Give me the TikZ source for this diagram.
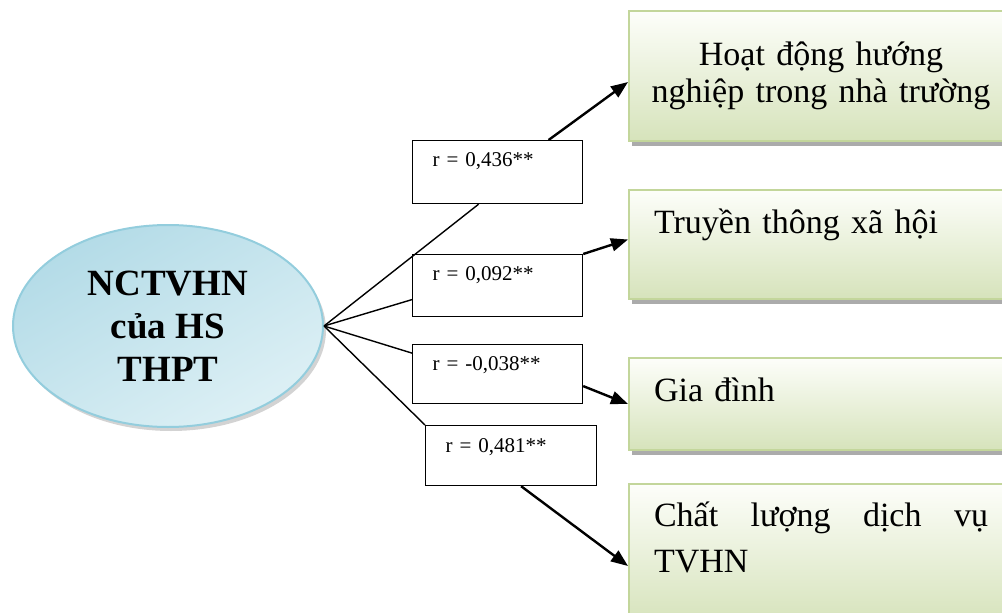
\documentclass[tikz,border=0pt]{standalone}
\usepackage{fontspec}
\setmainfont{Liberation Serif}
\usepackage{xcolor}
\usetikzlibrary{positioning,arrows.meta,shapes.geometric,shadows}
\definecolor{ovaltop}{HTML}{B3DBE7}
\definecolor{ovalbot}{HTML}{DDF0F5}
\definecolor{ovalline}{HTML}{93CDDD}
\definecolor{boxtop}{HTML}{FDFEFA}
\definecolor{boxbot}{HTML}{D6E3BB}
\definecolor{boxline}{HTML}{C3D69B}

\begin{document}
\begin{tikzpicture}[x=1pt,y=-1pt,
    oval/.style={ellipse,draw=ovalline,line width=2pt,minimum width=310pt,minimum height=202pt,
      top color=ovaltop,bottom color=ovalbot,shading angle=30,align=center,
      font=\bfseries\fontsize{37}{43}\selectfont,
      drop shadow={shadow xshift=3pt,shadow yshift=-4pt,opacity=0.35}},
    rbox/.style={draw,line width=1.2pt,fill=white,anchor=north west,inner xsep=20pt,inner ysep=0pt,
      text width=130pt,text height=26pt,align=left,font=\fontsize{21}{25}\selectfont},
    goal/.style={draw=boxline,line width=2pt,top color=boxtop,bottom color=boxbot,anchor=north west,
      inner xsep=25pt,inner ysep=0pt,text width=334pt,text height=43pt,align=left,
      font=\fontsize{34}{40}\selectfont,
      drop shadow={shadow xshift=3pt,shadow yshift=-5pt,fill=black!60,opacity=0.55}},
    link/.style={line width=1.4pt},
    effect/.style={line width=2.4pt,-{Triangle[length=17pt,width=13pt]}}]
  \clip (0,0) rectangle (1002,613);
  % source
  \node[oval] (nc) at (168,326) {NCTVHN\\của HS\\THPT};
  % factors
  \node[goal,align=center,inner xsep=12pt,text width=360pt,text height=54pt,text depth=76pt,
    font=\fontsize{34}{37}\selectfont]
    (b1) at (628,10) {Hoạt động hướng\\nghiệp trong nhà trường};
  \node[goal,text depth=66pt] (b2) at (628,189) {Truyền thông xã hội};
  \node[goal,text depth=49pt] (b3) at (628,357) {Gia đình};
  \node[goal,align=justify,text height=42pt,text depth=98pt,font=\fontsize{34}{46}\selectfont]
    (b4) at (628,483) {Chất lượng dịch vụ TVHN};
  % coefficients
  \node[rbox,text depth=37pt] (r1) at (412,140) {r = 0,436**};
  \node[rbox,text depth=36pt] (r2) at (412,254) {r = 0,092**};
  \node[rbox,text depth=33pt] (r3) at (412,344) {r = -0,038**};
  \node[rbox,text width=131pt,text height=27pt,text depth=33pt] (r4) at (425,425) {r = 0,481**};
  % links
  \draw[link] (nc.east) -- ([xshift=-19pt]r1.south);
  \draw[link] (nc.east) -- ([yshift=-14pt]r2.west);
  \draw[link] (nc.east) -- ([yshift=21pt]r3.west);
  \draw[link] (nc.east) -- (r4.north west);
  \draw[effect] ([xshift=51pt]r1.north) -- ([yshift=-6pt]b1.west);
  \draw[effect] (r2.north east) -- ([yshift=5pt]b2.west);
  \draw[effect] ([yshift=-12pt]r3.east) -- (b3.west);
  \draw[effect] ([xshift=10pt]r4.south) -- ([yshift=-12pt]b4.west);
\end{tikzpicture}
\end{document}
